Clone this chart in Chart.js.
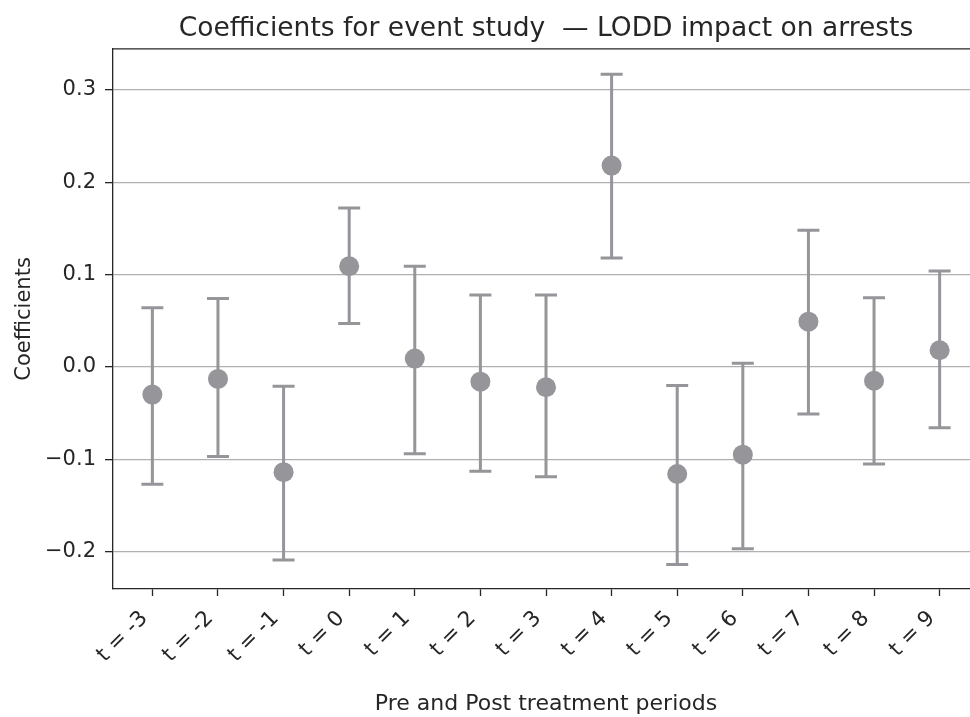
<!DOCTYPE html>
<html>
<head>
<meta charset="utf-8">
<script src="https://cdn.jsdelivr.net/npm/chart.js@4.4.1/dist/chart.umd.min.js"></script>
<style>
  html, body { margin: 0; padding: 0; background: #fff; overflow: hidden; }
  #wrap { width: 989px; height: 717px; }
</style>
</head>
<body>
<div id="wrap"><canvas id="eventChart" width="989" height="717"></canvas></div>
<script>
// event-study periods relative to the LODD
const periods = [-3, -2, -1, 0, 1, 2, 3, 4, 5, 6, 7, 8, 9];
const periodLabels = periods.map(p => "t = " + p);

// point estimates and confidence bounds
const coef   = [-0.030, -0.013, -0.114, 0.109, 0.009, -0.016, -0.022, 0.218, -0.116, -0.095, 0.049, -0.015, 0.018];
const ciLow  = [-0.127, -0.097, -0.209, 0.047, -0.094, -0.113, -0.119, 0.118, -0.214, -0.197, -0.051, -0.105, -0.066];
const ciHigh = [0.064, 0.074, -0.021, 0.172, 0.109, 0.078, 0.078, 0.317, -0.020, 0.004, 0.148, 0.075, 0.104];

const yTicks = [-0.2, -0.1, 0.0, 0.1, 0.2, 0.3];

const barColor = "#95959a";
const ink = "#262626";
const font = "'DejaVu Sans', sans-serif";

// vertical error bars with caps, drawn under the markers
const errorBars = {
  id: "errorBars",
  beforeDatasetsDraw(chart) {
    const { ctx, scales: { x, y } } = chart;
    ctx.save();
    ctx.strokeStyle = barColor;
    ctx.lineWidth = 3;
    coef.forEach((c, i) => {
      const px = x.getPixelForValue(i);
      const lo = y.getPixelForValue(ciLow[i]);
      const hi = y.getPixelForValue(ciHigh[i]);
      ctx.beginPath();
      ctx.moveTo(px, lo);
      ctx.lineTo(px, hi);
      ctx.moveTo(px - 11, lo);
      ctx.lineTo(px + 11, lo);
      ctx.moveTo(px - 11, hi);
      ctx.lineTo(px + 11, hi);
      ctx.stroke();
    });
    ctx.restore();
  },
  afterDraw(chart) {
    // top spine
    const { ctx, chartArea } = chart;
    ctx.save();
    ctx.strokeStyle = ink;
    ctx.lineWidth = 1.3;
    ctx.beginPath();
    ctx.moveTo(chartArea.left, chartArea.top);
    ctx.lineTo(chartArea.right, chartArea.top);
    ctx.stroke();
    ctx.restore();
  }
};

new Chart(document.getElementById("eventChart"), {
  type: "scatter",
  data: {
    datasets: [{
      data: coef.map((c, i) => ({ x: i, y: c })),
      backgroundColor: barColor,
      borderWidth: 0,
      pointRadius: 10,
      pointHoverRadius: 10
    }]
  },
  options: {
    responsive: false,
    animation: false,
    plugins: {
      legend: { display: false },
      tooltip: { enabled: false },
      title: {
        display: true,
        text: "Coefficients for event study  \u2014 LODD impact on arrests",
        color: ink,
        fullSize: false,
        font: { family: font, size: 26.5, weight: "normal" },
        padding: { top: 13, bottom: 4 }
      }
    },
    scales: {
      x: {
        type: "linear",
        min: -0.6,
        max: 12.6,
        afterBuildTicks: scale => {
          scale.ticks = periods.map((p, i) => ({ value: i }));
        },
        afterFit: scale => { scale.height = 128; },
        ticks: {
          callback: v => periodLabels[v],
          color: ink,
          font: { family: font, size: 21.5 },
          maxRotation: 45,
          minRotation: 45,
          padding: 10,
          labelOffset: -8,
          autoSkip: false
        },
        grid: {
          drawOnChartArea: false,
          tickLength: 7,
          tickColor: ink,
          tickWidth: 1.3
        },
        border: { color: ink, width: 1.3 },
        title: {
          display: true,
          text: "Pre and Post treatment periods",
          color: ink,
          font: { family: font, size: 22 },
          padding: { top: 0, bottom: 0 }
        }
      },
      y: {
        min: -0.2405,
        max: 0.3445,
        afterBuildTicks: scale => {
          scale.ticks = yTicks.map(v => ({ value: v }));
        },
        afterFit: scale => { scale.width = 113; },
        ticks: {
          callback: v => v.toFixed(1).replace("-", "\u2212"),
          color: ink,
          font: { family: font, size: 21 },
          padding: 9
        },
        grid: {
          color: "#b0b0b0",
          lineWidth: 1.3,
          tickLength: 8,
          tickColor: ink,
          tickWidth: 1.3
        },
        border: { color: ink, width: 1.3 },
        title: {
          display: true,
          text: "Coefficients",
          color: ink,
          font: { family: font, size: 21 },
          padding: { top: 12, bottom: 0 }
        }
      }
    }
  },
  plugins: [errorBars]
});
</script>
</body>
</html>
